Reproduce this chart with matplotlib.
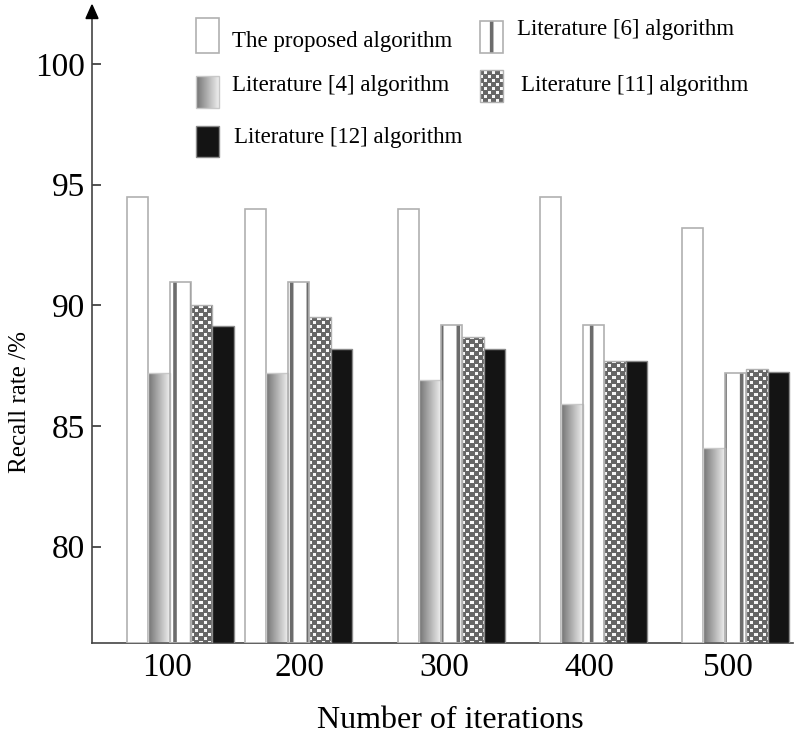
import matplotlib
matplotlib.use('Agg')
import matplotlib.pyplot as plt
import numpy as np
from matplotlib.patches import Rectangle, Polygon

# data
iterations = ['100', '200', '300', '400', '500']
proposed = [94.5, 94.0, 94.0, 94.5, 93.2]
lit4 = [87.2, 87.2, 86.9, 85.9, 84.1]
lit6 = [90.95, 90.95, 89.2, 89.2, 87.2]
lit11 = [90.0, 89.5, 88.7, 87.7, 87.35]
lit12 = [89.15, 88.2, 88.2, 87.7, 87.25]
names = ['The proposed algorithm', 'Literature [4] algorithm', 'Literature [6] algorithm',
         'Literature [11] algorithm', 'Literature [12] algorithm']

plt.rcParams['font.family'] = ['Liberation Serif', 'DejaVu Serif']
plt.rcParams['hatch.linewidth'] = 2.6

W, H = 800, 739
EDGE = '#b0b0b0'
YMIN = 76
YMAX = 100 + (64 - 18) / 24.13

# layout (x axis in pixel-like units)
group_left = [126.7, 245, 398, 540, 682]
bar_w = 21.4
label_x = [167, 300, 444, 589, 728]

fig = plt.figure(figsize=(W / 100, H / 100), dpi=100)
ax = fig.add_axes([92 / W, (H - 643.1) / H, 701 / W, (643.1 - 18) / H])
ax.set_xlim(92, 793)
ax.set_ylim(YMIN, YMAX)
sx = 1.0
sy = (643.1 - 18) / (YMAX - YMIN)


def gradient_fill(a, patch):
    x, y = patch.get_xy()
    w, h = patch.get_width(), patch.get_height()
    g = np.linspace(0.45, 0.93, 64)[None, :]
    im = a.imshow(g, extent=[x, x + w, y, y + h], cmap='gray', vmin=0, vmax=1,
                  aspect='auto', interpolation='bilinear', zorder=2)
    im.set_clip_path(patch)


def checker_fill(a, patch, px_x, px_y):
    x, y = patch.get_xy()
    w, h = patch.get_width(), patch.get_height()
    wp = max(int(round(w * px_x)), 1)
    hp = max(int(round(abs(h) * px_y)), 1)
    yy, xx = np.mgrid[0:hp, 0:wp]
    p = 8
    a1 = ((xx % p) < 3) & ((yy % p) < 3)
    a2 = (((xx + 4) % p) < 3) & (((yy + 4) % p) < 3)
    arr = np.where(a1 | a2, 0.97, 0.40)
    im = a.imshow(arr, extent=[x, x + w, y, y + h], cmap='gray', vmin=0, vmax=1,
                  aspect='auto', interpolation='nearest', zorder=2)
    im.set_clip_path(patch)


lefts = np.array(group_left)

# proposed: white
ax.bar(lefts, np.array(proposed) - YMIN, bottom=YMIN, width=bar_w, align='edge',
       color='white', edgecolor=EDGE, linewidth=1.2, zorder=3)

# literature [4]: gradient
b4 = ax.bar(lefts + bar_w, np.array(lit4) - YMIN, bottom=YMIN, width=bar_w, align='edge',
            facecolor='none', edgecolor='#c8c8c8', linewidth=1.0, zorder=3)
for p in b4:
    gradient_fill(ax, p)

# literature [6]: white with vertical stripe
ax.bar(lefts + 2 * bar_w, np.array(lit6) - YMIN, bottom=YMIN, width=bar_w, align='edge',
       color='white', edgecolor='#6c6c6c', hatch='|', linewidth=0, zorder=2)
ax.bar(lefts + 2 * bar_w, np.array(lit6) - YMIN, bottom=YMIN, width=bar_w, align='edge',
       fill=False, edgecolor=EDGE, linewidth=1.2, zorder=3)

# literature [11]: checker
b11 = ax.bar(lefts + 3 * bar_w, np.array(lit11) - YMIN, bottom=YMIN, width=bar_w, align='edge',
             facecolor='none', edgecolor=EDGE, linewidth=1.0, zorder=3)
for p in b11:
    checker_fill(ax, p, sx, sy)

# literature [12]: black
ax.bar(lefts + 4 * bar_w, np.array(lit12) - YMIN, bottom=YMIN, width=bar_w, align='edge',
       color='#141414', edgecolor='#8a8a8a', linewidth=1.0, zorder=3)

ax.set_xlim(92, 793)
ax.set_ylim(YMIN, YMAX)
ax.set_xticks(label_x)
ax.set_xticklabels(iterations)
ax.set_yticks([80, 85, 90, 95, 100])
ax.tick_params(axis='x', length=0, pad=7, labelsize=24)
ax.tick_params(axis='y', direction='in', length=6.5, width=1.2, color='#333333',
               pad=5, labelsize=24)
for s in ['top', 'right']:
    ax.spines[s].set_visible(False)
for s in ['left', 'bottom']:
    ax.spines[s].set_color('#444444')
    ax.spines[s].set_linewidth(1.2)

# overlay in pixel coordinates for legend, arrow and axis titles
ov = fig.add_axes([0, 0, 1, 1])
ov.set_xlim(0, W)
ov.set_ylim(H, 0)
ov.axis('off')

ov.add_patch(Polygon([(86, 18.5), (98, 18.5), (92, 5)], closed=True, color='black'))

ov.text(20, 402, 'Recall rate /%', rotation=90, ha='center', va='center', fontsize=18)
ov.text(450, 720, 'Number of iterations', ha='center', va='center', fontsize=23)

# legend swatches
sw = 23
r1 = Rectangle((196, 18), sw, 35, facecolor='white', edgecolor=EDGE, lw=1.2)
ov.add_patch(r1)
r2 = Rectangle((196, 76), sw, 32, facecolor='none', edgecolor='#c8c8c8', lw=1.0, zorder=3)
ov.add_patch(r2)
gradient_fill(ov, r2)
r3 = Rectangle((196, 126), sw, 31, facecolor='#141414', edgecolor='#8a8a8a', lw=1.0)
ov.add_patch(r3)
r4 = Rectangle((480, 21), sw, 32, facecolor='white', edgecolor='#6c6c6c', hatch='|', lw=0)
ov.add_patch(r4)
ov.add_patch(Rectangle((480, 21), sw, 32, fill=False, edgecolor=EDGE, lw=1.2))
r5 = Rectangle((480, 70), sw, 32, facecolor='none', edgecolor=EDGE, lw=1.0, zorder=3)
ov.add_patch(r5)
checker_fill(ov, r5, 1, 1)
ov.set_xlim(0, W)
ov.set_ylim(H, 0)

fs = 16.5
ov.text(232, 42, names[0], ha='left', va='center', fontsize=fs)
ov.text(232, 85, names[1], ha='left', va='center', fontsize=fs)
ov.text(234, 138, names[4], ha='left', va='center', fontsize=fs)
ov.text(517, 30, names[2], ha='left', va='center', fontsize=fs)
ov.text(521, 85, names[3], ha='left', va='center', fontsize=fs)

fig.savefig('out.png', dpi=100)
